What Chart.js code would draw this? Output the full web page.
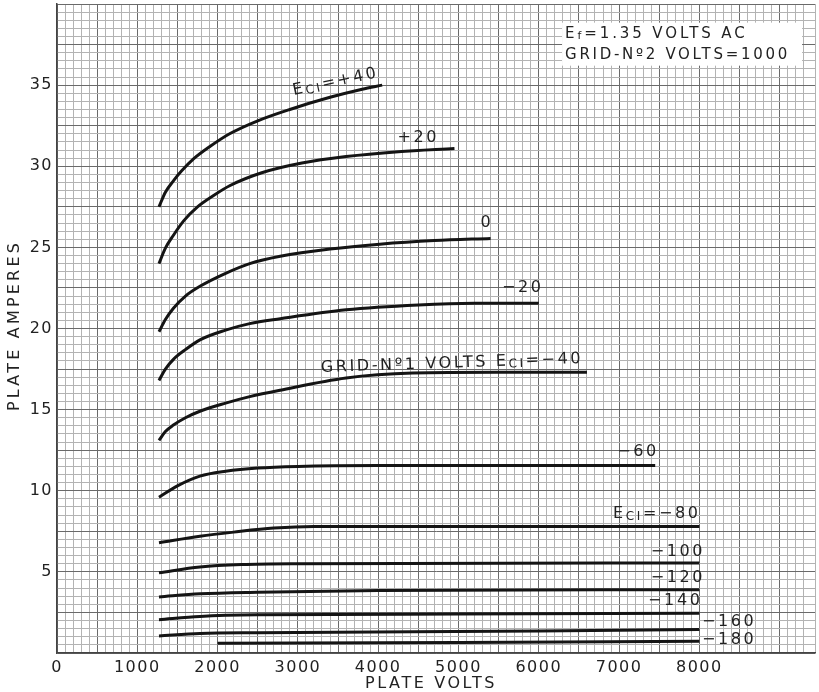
<!DOCTYPE html>
<html>
<head>
<meta charset="utf-8">
<script src="https://cdn.jsdelivr.net/npm/chart.js@4.4.1/dist/chart.umd.min.js"></script>
<style>
html,body{margin:0;padding:0;background:#fff;}
canvas{display:block;}
</style>
</head>
<body>
<canvas id="c" width="819" height="692"></canvas>
<script>
// ---- data (plate volts / plate amperes per grid-No.1 voltage) ----
const gridVolts = ['+40','+20','0','-20','-40','-60','-80','-100','-120','-140','-160','-180'];

const vP40  = [1270, 1350, 1450, 1550, 1700, 1900, 2150, 2500, 2900, 3400, 3800, 4050];
const iP40  = [27.5, 28.4, 29.1, 29.7, 30.45, 31.2, 32.0, 32.8, 33.5, 34.25, 34.75, 35.0];

const vP20  = [1270, 1350, 1450, 1580, 1750, 1950, 2150, 2550, 3050, 3600, 4250, 4950];
const iP20  = [24.0, 24.95, 25.75, 26.65, 27.5, 28.2, 28.8, 29.6, 30.2, 30.6, 30.9, 31.1];

const v0    = [1270, 1350, 1450, 1600, 1780, 2100, 2400, 2780, 3400, 4020, 4700, 5400];
const i0    = [19.8, 20.55, 21.25, 22.0, 22.6, 23.4, 24.0, 24.45, 24.9, 25.2, 25.42, 25.55];

const vM20  = [1270, 1350, 1450, 1600, 1780, 2100, 2400, 2780, 3600, 4500, 5200, 6000];
const iM20  = [16.8, 17.5, 18.1, 18.7, 19.3, 19.9, 20.3, 20.6, 21.15, 21.45, 21.55, 21.55];

const vM40  = [1270, 1350, 1450, 1600, 1780, 2100, 2400, 2780, 3600, 4430, 5500, 6600];
const iM40  = [13.1, 13.65, 14.05, 14.5, 14.9, 15.4, 15.8, 16.2, 16.95, 17.25, 17.3, 17.3];

const vM60  = [1270, 1500, 1780, 2100, 2500, 3000, 4000, 5000, 7450];
const iM60  = [9.6, 10.3, 10.9, 11.2, 11.4, 11.5, 11.55, 11.55, 11.55];

const vM80  = [1270, 1780, 2200, 2700, 3200, 8000];
const iM80  = [6.8, 7.2, 7.45, 7.7, 7.8, 7.8];

const vM100 = [1270, 1780, 2300, 3000, 8000];
const iM100 = [4.95, 5.3, 5.45, 5.5, 5.55];

const vM120 = [1270, 1780, 2500, 4000, 8000];
const iM120 = [3.45, 3.65, 3.75, 3.85, 3.9];

const vM140 = [1270, 1780, 2500, 5000, 8000];
const iM140 = [2.05, 2.25, 2.35, 2.4, 2.45];

const vM160 = [1270, 1780, 2500, 6000, 8000];
const iM160 = [1.05, 1.2, 1.25, 1.35, 1.45];

const vM180 = [2000, 5000, 8000];
const iM180 = [0.6, 0.65, 0.72];

const xTickLabels = [0, 1000, 2000, 3000, 4000, 5000, 6000, 7000, 8000];
const yTickLabels = [5, 10, 15, 20, 25, 30, 35];

const xTitle = 'PLATE VOLTS';
const yTitle = 'PLATE AMPERES';
const noteLine1 = [['E'], ['f', 1], ['=1.35 VOLTS AC']];
const noteLine2 = [['GRID-Nº2 VOLTS=1000']];

// ---- build datasets ----
const series = [
  [vP40, iP40], [vP20, iP20], [v0, i0], [vM20, iM20], [vM40, iM40], [vM60, iM60],
  [vM80, iM80], [vM100, iM100], [vM120, iM120], [vM140, iM140], [vM160, iM160], [vM180, iM180]
];
const datasets = series.map((s, k) => ({
  label: gridVolts[k],
  data: s[0].map((v, i) => ({x: v, y: s[1][i]})),
  borderColor: '#141414',
  borderWidth: 3,
  pointRadius: 0,
  fill: false,
  cubicInterpolationMode: 'monotone'
}));

// curve labels (positioned in data units, centred)
const curveLabels = [
  {parts: [['E'], ['CI', 1], ['=+40']], v: 3470, a: 35.2, rot: -12},
  {parts: [['+20']], v: 4500, a: 31.75, rot: 0},
  {parts: [['0']], v: 5355, a: 26.5, rot: 0},
  {parts: [['−20']], v: 5800, a: 22.5, rot: 0},
  {parts: [['GRID-Nº1 VOLTS E'], ['CI', 1], ['=−40']], v: 4920, a: 17.85, rot: -2},
  {parts: [['−60']], v: 7235, a: 12.4, rot: 0},
  {parts: [['E'], ['CI', 1], ['=−80']], v: 7470, a: 8.55, rot: 0},
  {parts: [['−100']], v: 7733, a: 6.25, rot: 0},
  {parts: [['−120']], v: 7733, a: 4.65, rot: 0},
  {parts: [['−140']], v: 7700, a: 3.2, rot: 0},
  {parts: [['−160']], v: 8370, a: 1.95, rot: 0},
  {parts: [['−180']], v: 8370, a: 0.82, rot: 0}
];

const FONT = "'DejaVu Sans', 'Liberation Sans', sans-serif";
const TEXT = '#222';

function setSpacing(ctx, s) { if ('letterSpacing' in ctx) ctx.letterSpacing = s + 'px'; }

function richWidth(ctx, parts, size, sp) {
  let w = 0;
  parts.forEach(p => {
    ctx.font = (p[1] ? Math.round(size * 0.72) : size) + 'px ' + FONT;
    setSpacing(ctx, sp);
    w += ctx.measureText(p[0]).width;
  });
  return w;
}
function drawRich(ctx, parts, x, y, size, sp, rot, align) {
  ctx.save();
  ctx.translate(x, y);
  ctx.rotate((rot || 0) * Math.PI / 180);
  const w = richWidth(ctx, parts, size, sp);
  let cx = align === 'left' ? 0 : -w / 2;
  ctx.fillStyle = TEXT;
  ctx.textBaseline = 'middle';
  ctx.textAlign = 'left';
  parts.forEach(p => {
    const small = !!p[1];
    ctx.font = (small ? Math.round(size * 0.72) : size) + 'px ' + FONT;
    setSpacing(ctx, sp);
    ctx.fillText(p[0], cx, small ? size * 0.18 : 0);
    cx += ctx.measureText(p[0]).width;
  });
  ctx.restore();
}

const decor = {
  id: 'decor',
  beforeDraw(chart) { setSpacing(chart.ctx, 1.5); },
  afterDatasetsDraw(chart) {
    const ctx = chart.ctx;
    const xs = chart.scales.x, ys = chart.scales.y;
    curveLabels.forEach(l => {
      drawRich(ctx, l.parts, xs.getPixelForValue(l.v), ys.getPixelForValue(l.a), 16, 2.6, l.rot);
    });
    // note box (top right)
    const bx = xs.getPixelForValue(6290), by = ys.getPixelForValue(38.85);
    const bw = 240, bh = 43;
    ctx.save();
    ctx.fillStyle = '#ffffff';
    ctx.fillRect(bx, by, bw, bh);
    ctx.restore();
    drawRich(ctx, noteLine1, bx + 3, by + 11, 15, 2.9, 0, 'left');
    drawRich(ctx, noteLine2, bx + 3, by + 32, 15, 2.7, 0, 'left');
  },
  afterDraw(chart) {
    const ctx = chart.ctx, ca = chart.chartArea;
    drawRich(ctx, [[xTitle]], (ca.left + ca.right) / 2 - 5, 684, 16, 2.6, 0);
    drawRich(ctx, [[yTitle]], 15, (ca.top + ca.bottom) / 2 - 3, 16, 3.2, -90);
    setSpacing(ctx, 0);
  }
};

function gridColor(step, major) {
  return c => {
    const v = c.tick ? c.tick.value : 0;
    const r = Math.round(v / step);
    return (Math.abs(v / step - r) < 1e-6 && r % major === 0) ? '#6a6a6a' : '#b3b3b3';
  };
}

new Chart(document.getElementById('c'), {
  type: 'line',
  data: {datasets},
  options: {
    responsive: false,
    animation: false,
    devicePixelRatio: 1,
    layout: {padding: {left: 0, right: 4, top: 4, bottom: 0}},
    plugins: {legend: {display: false}, tooltip: {enabled: false}},
    scales: {
      x: {
        type: 'linear', min: 0, max: 9440,
        afterFit: s => { s.height = 39; s.paddingLeft = 0; s.paddingRight = 0; },
        border: {display: true, color: '#444', width: 1.5},
        grid: {color: gridColor(100, 5), lineWidth: 1, drawTicks: false},
        ticks: {
          stepSize: 100, autoSkip: false, maxRotation: 0, maxTicksLimit: 500, padding: 5,
          color: TEXT, font: {family: FONT, size: 16},
          callback: v => xTickLabels.includes(Math.round(v)) && Math.abs(v - Math.round(v)) < 1e-6 ? String(Math.round(v)) : ''
        }
      },
      y: {
        type: 'linear', min: 0, max: 40,
        afterFit: s => { s.width = 57; s.paddingTop = 0; s.paddingBottom = 0; },
        border: {display: true, color: '#444', width: 1.5},
        grid: {color: gridColor(0.5, 5), lineWidth: 1, drawTicks: false},
        ticks: {
          stepSize: 0.5, autoSkip: false, maxTicksLimit: 500, padding: 4,
          color: TEXT, font: {family: FONT, size: 16},
          callback: v => {
            const r = Math.round(v);
            return (Math.abs(v - r) < 1e-6 && yTickLabels.includes(r)) ? String(r) : '';
          }
        }
      }
    }
  },
  plugins: [decor]
});
</script>
</body>
</html>
